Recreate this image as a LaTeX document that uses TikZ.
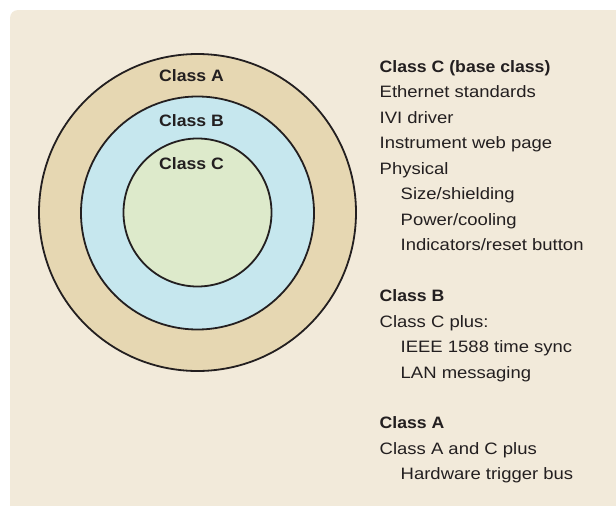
\documentclass[tikz,border=0pt]{standalone}
\usepackage{fontspec}
\setmainfont{Liberation Sans}
\newfontfamily\regfont{Liberation Sans}[FakeStretch=1.12]
\newfontfamily\boldfont{Liberation Sans}[FakeStretch=1.07]
\definecolor{panel}{HTML}{F2EADA}
\definecolor{ringA}{HTML}{E6D7B2}
\definecolor{ringB}{HTML}{C6E7EE}
\definecolor{ringC}{HTML}{DDEACB}
\definecolor{ink}{HTML}{231F20}
\begin{document}
\begin{tikzpicture}[x=1pt,y=-1pt,
  ring/.style={draw=ink,line width=1.8pt},
  txt/.style={anchor=base west,inner sep=0pt,text=ink,font=\regfont\fontsize{16.5}{20}\selectfont},
  hd/.style={anchor=base west,inner sep=0pt,text=ink,font=\boldfont\fontsize{16.5}{20}\selectfont\bfseries},
  lbl/.style={hd}]
\useasboundingbox (0,0) rectangle (616,506);
\fill[panel] (616,506) -- (10,506) -- (10,18) arc[start angle=180,end angle=270,radius=8] -- (616,10) -- cycle;
\draw[ring,fill=ringA] (197.5,212.5) circle[radius=158.5];
\draw[ring,fill=ringB] (197.5,213) circle[radius=116.5];
\draw[ring,fill=ringC] (197.5,212.5) circle[radius=74];
\node[lbl] (la) at (159,81.5) {Class A};
\node[lbl] (lb) at (159,126.5) {Class B};
\node[lbl] (lc) at (159,169) {Class C};
% Class C block
\node[hd]  (c0) at (379.5,72) {Class C (base class)};
\node[txt] (c1) at (379.5,97.5) {Ethernet standards};
\node[txt] (c2) at (379.5,123) {IVI driver};
\node[txt] (c3) at (379.5,148.5) {Instrument web page};
\node[txt] (c4) at (379.5,174) {Physical};
\node[txt] (c5) at (400.5,199.5) {Size/shielding};
\node[txt] (c6) at (400.5,225) {Power/cooling};
\node[txt] (c7) at (400.5,250.5) {Indicators/reset button};
% Class B block
\node[hd]  (b0) at (379.5,301.5) {Class B};
\node[txt] (b1) at (379.5,327) {Class C plus:};
\node[txt] (b2) at (400.5,352.5) {IEEE 1588 time sync};
\node[txt] (b3) at (400.5,378) {LAN messaging};
% Class A block
\node[hd]  (a0) at (379.5,428.5) {Class A};
\node[txt] (a1) at (379.5,454) {Class A and C plus};
\node[txt] (a2) at (400.5,479.5) {Hardware trigger bus};
\end{tikzpicture}
\end{document}
